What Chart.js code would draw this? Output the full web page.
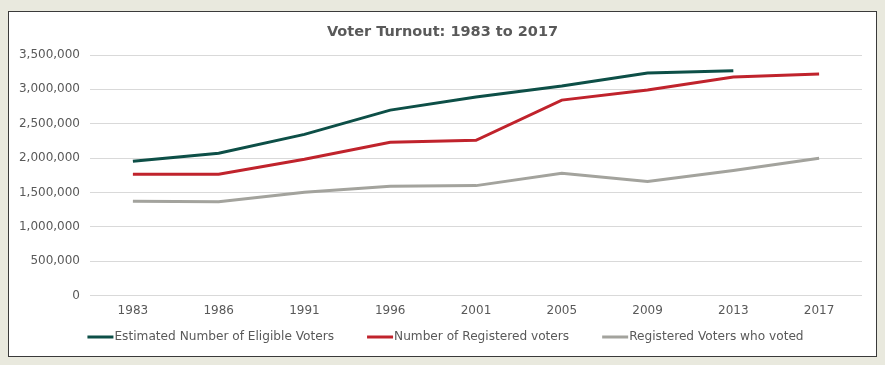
<!DOCTYPE html>
<html>
<head>
<meta charset="utf-8">
<script src="https://cdn.jsdelivr.net/npm/chart.js@4"></script>
<style>
  html, body { margin: 0; padding: 0; background: #e9e9de; }
  #frame {
    position: absolute; left: 8px; top: 11px;
    width: 867px; height: 344px;
    background: #fff; border: 1px solid #3a3a3a;
  }
</style>
</head>
<body>
<div id="frame"><canvas id="turnoutChart" width="867" height="344"></canvas></div>
<script>
  // Chart data
  const years = ['1983', '1986', '1991', '1996', '2001', '2005', '2009', '2013', '2017'];
  const eligibleVoters = [1954000, 2071000, 2345000, 2698000, 2888000, 3048000, 3238000, 3270000, null];
  const registeredVoters = [1765000, 1765000, 1983000, 2231000, 2260000, 2844000, 2990000, 3179000, 3223000];
  const votersWhoVoted = [1371000, 1365000, 1502000, 1590000, 1600000, 1780000, 1660000, 1820000, 1998000];
  const yTicks = [0, 500000, 1000000, 1500000, 2000000, 2500000, 3000000, 3500000];
  const chartTitle = 'Voter Turnout: 1983 to 2017';

  const textColor = '#595959';
  const fontFamily = '"DejaVu Sans", Verdana, sans-serif';
  const font = { family: fontFamily, size: 12 };

  const line = (label, data, color) => ({
    label: label,
    data: data,
    borderColor: color,
    backgroundColor: color,
    borderWidth: 3,
    pointRadius: 0,
    tension: 0,
    spanGaps: false
  });

  // Title centred on the whole frame, legend with the swatch right against its label
  const frameText = {
    id: 'frameText',
    afterDraw(chart) {
      const ctx = chart.ctx;
      const sets = chart.data.datasets;
      ctx.save();
      ctx.textBaseline = 'middle';

      ctx.font = 'bold 14.5px ' + fontFamily;
      ctx.fillStyle = textColor;
      ctx.textAlign = 'center';
      ctx.fillText(chartTitle, chart.width / 2, 20);

      ctx.textAlign = 'left';
      ctx.font = '12.15px ' + fontFamily;
      const swatch = 26, space = 33;
      const widths = sets.map(d => swatch + 1 + ctx.measureText(d.label).width);
      const total = widths.reduce((a, b) => a + b, 0) + space * (sets.length - 1);
      let x = chart.width / 2 + 3 - total / 2;
      const y = chart.height - 19;
      sets.forEach((d, i) => {
        ctx.strokeStyle = d.borderColor;
        ctx.lineWidth = 3;
        ctx.beginPath();
        ctx.moveTo(x, y);
        ctx.lineTo(x + swatch, y);
        ctx.stroke();
        ctx.fillStyle = textColor;
        ctx.fillText(d.label, x + swatch + 1, y);
        x += widths[i] + space;
      });
      ctx.restore();
    }
  };

  new Chart(document.getElementById('turnoutChart'), {
    type: 'line',
    data: {
      labels: years,
      datasets: [
        line('Estimated Number of Eligible Voters', eligibleVoters, '#0d4f47'),
        line('Number of Registered voters', registeredVoters, '#c0232c'),
        line('Registered Voters who voted', votersWhoVoted, '#a3a39d')
      ]
    },
    options: {
      responsive: false,
      animation: false,
      layout: { padding: { left: 0, right: 14, top: 43, bottom: 30 } },
      plugins: {
        title: { display: false },
        legend: { display: false },
        tooltip: { enabled: false }
      },
      scales: {
        x: {
          offset: true,
          grid: { display: false, drawTicks: false },
          border: { display: false },
          ticks: { color: textColor, font: font, padding: 8, maxRotation: 0 }
        },
        y: {
          min: 0,
          max: 3500000,
          afterFit: s => { s.width = 81; },
          afterBuildTicks: s => { s.ticks = yTicks.map(v => ({ value: v })); },
          grid: { color: '#d9d9d9', drawTicks: false },
          border: { display: false },
          ticks: {
            color: textColor,
            font: font,
            padding: 10,
            callback: v => v.toLocaleString('en-US')
          }
        }
      }
    },
    plugins: [frameText]
  });
</script>
</body>
</html>
